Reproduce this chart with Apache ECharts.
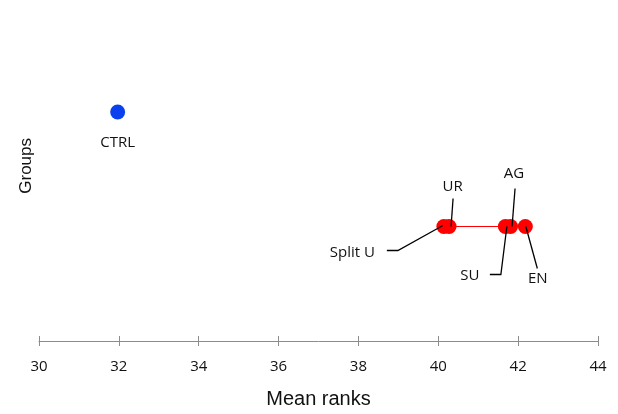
<!DOCTYPE html>
<html>
<head>
<meta charset="utf-8">
<script src="https://cdn.jsdelivr.net/npm/echarts@6/dist/echarts.min.js"></script>
<style>
  html, body { margin: 0; padding: 0; background: #fff; }
  #chart { width: 618px; height: 414px; }
</style>
</head>
<body>
<div id="chart"></div>
<script>
// Mean ranks per treatment group
const groupNames = ['CTRL', 'Split U', 'UR', 'SU', 'AG', 'EN'];
const meanRanks = [31.97, 40.14, 40.27, 41.68, 41.81, 42.18];
// Row of each group: 2 = control, 1 = homogeneous subset of treatments
const groupRow = [2, 1, 1, 1, 1, 1];
const rowColors = { 2: '#0b40ee', 1: '#ff0000' };

// Axis settings
const xMin = 30, xMax = 44, xStep = 2;

// Leader-line and label placement around each marker (pixel offsets from the marker centre)
const labelPlacement = {
  'CTRL':    { text: [0, 31],      line: null },
  'UR':      { text: [3.5, -40],   line: [[4, -28], [2, 0]] },
  'AG':      { text: [3.5, -52.5], line: [[4.5, -38], [1.5, 0]] },
  'Split U': { text: [-91.5, 26],  line: [[-57, 24], [-46, 24], [-1, -1]] },
  'SU':      { text: [-35.5, 49],  line: [[-15.5, 48], [-4.5, 48], [1.5, 0]] },
  'EN':      { text: [12.5, 52.5], line: [[0.5, 0], [12, 42]] }
};

const points = groupNames.map((n, i) => ({
  name: n,
  value: [meanRanks[i], groupRow[i]],
  itemStyle: { color: rowColors[groupRow[i]], opacity: 1 }
}));

// Connector across the treatment subset (row 1)
const subset = meanRanks.filter((v, i) => groupRow[i] === 1);
const connector = [[Math.min(...subset), 1], [Math.max(...subset), 1]];

const labelFont = '"Open Sans", "Noto Sans", sans-serif';
const titleFont = '"Liberation Sans", Arial, sans-serif';

const chart = echarts.init(document.getElementById('chart'), null, { renderer: 'canvas' });

chart.setOption({
  animation: false,
  backgroundColor: '#ffffff',
  grid: { left: 39, right: 20, top: 54.75, bottom: 72, containLabel: false },
  xAxis: [
    {
      type: 'value', min: xMin, max: xMax, interval: xStep,
      name: 'Mean ranks', nameLocation: 'middle', nameGap: 48,
      nameTextStyle: { fontFamily: titleFont, fontSize: 20, color: '#111' },
      axisLine: { show: true, lineStyle: { color: '#8c8c8c', width: 1 } },
      axisTick: { show: true, inside: false, length: 5, lineStyle: { color: '#8c8c8c' } },
      axisLabel: { margin: 18, fontFamily: labelFont, fontSize: 15, color: '#111' },
      splitLine: { show: false }
    },
    {
      type: 'value', min: xMin, max: xMax, interval: xStep, position: 'bottom',
      axisLine: { show: false },
      axisTick: { show: true, inside: true, length: 5, lineStyle: { color: '#8c8c8c' } },
      axisLabel: { show: false },
      splitLine: { show: false }
    }
  ],
  yAxis: {
    type: 'value', min: 0, max: 2.5,
    axisLine: { show: false }, axisTick: { show: false },
    axisLabel: { show: false }, splitLine: { show: false }
  },
  graphic: [{
    type: 'text',
    left: 17.5, top: 138,
    rotation: Math.PI / 2,
    style: {
      text: 'Groups',
      font: '17px ' + titleFont,
      fill: '#111'
    }
  }],
  series: [
    {
      type: 'line',
      data: connector,
      symbol: 'none',
      lineStyle: { color: '#ff0000', width: 1 },
      z: 2
    },
    {
      type: 'scatter',
      data: points,
      symbolSize: 15,
      z: 3
    },
    {
      type: 'custom',
      data: points.map(p => p.value),
      z: 5,
      renderItem: function (params, api) {
        const name = groupNames[params.dataIndex];
        const c = api.coord([api.value(0), api.value(1)]);
        const place = labelPlacement[name];
        const children = [];
        if (place.line) {
          children.push({
            type: 'polyline',
            shape: { points: place.line.map(o => [c[0] + o[0], c[1] + o[1]]) },
            style: { stroke: '#000', lineWidth: 1.3, fill: null }
          });
        }
        children.push({
          type: 'text',
          style: {
            x: c[0] + place.text[0], y: c[1] + place.text[1],
            text: name, align: 'center', verticalAlign: 'middle',
            font: '15px ' + labelFont, fill: '#111'
          }
        });
        return { type: 'group', children: children };
      }
    }
  ]
});
</script>
</body>
</html>
